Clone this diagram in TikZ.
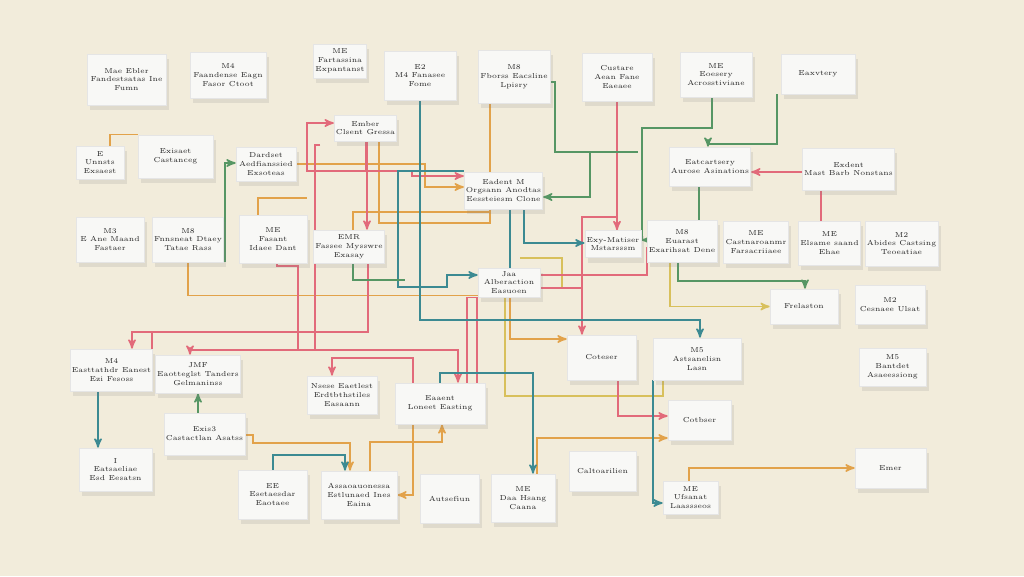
\documentclass[tikz,border=0pt]{standalone}
\usepackage{xcolor}
\usepackage{tikz}
\usetikzlibrary{arrows,shadows}
\pgfdeclarelayer{background}
\pgfsetlayers{background,main}
\definecolor{paper}{RGB}{242,236,219}
\definecolor{cardfill}{RGB}{248,248,246}
\definecolor{wred}{RGB}{226,106,122}
\definecolor{worange}{RGB}{226,162,74}
\definecolor{wgreen}{RGB}{86,150,100}
\definecolor{wteal}{RGB}{60,138,146}
\definecolor{wyellow}{RGB}{216,192,92}
\tikzset{
  card/.style 2 args = {rectangle, draw=black!10, fill=cardfill, text=black!85,
    align=center, inner sep=1pt, text centered,
    minimum width=#1*0.02cm, minimum height=#2*0.02cm,
    font=\fontsize{4.1}{5}\selectfont,
    drop shadow={opacity=0.16, shadow xshift=1.5pt, shadow yshift=-3pt}},% fiche blanche
  w_rd/.style = {wred, line width=0.9pt},% fil rouge
  w_or/.style = {worange, line width=0.9pt},% fil orange
  w_gr/.style = {wgreen, line width=0.9pt},% fil vert
  w_tl/.style = {wteal, line width=0.9pt},% fil bleu-vert
  w_ye/.style = {wyellow, line width=0.9pt}% fil jaune
}
\begin{document}
\begin{tikzpicture}[x=0.02cm, y=-0.02cm, >=stealth', line cap=round]
\useasboundingbox (0,0) rectangle (1024,576);
% rangee 1
\node[card={79}{51}] (b01) at (126.5,79.5) {Mae Ebler\\Fandestsatas Ine\\Fumn};
\node[card={76}{46}] (b02) at (228,75) {M4\\Faandense Eagn\\Fasor Ctoot};
\node[card={52}{34}] (b03) at (340,61) {ME\\Fartassina\\Expantanst};
\node[card={72}{49}] (b04) at (420,75.5) {E2\\M4 Fanasee\\Fome};
\node[card={72}{53}] (b05) at (514,76.5) {M8\\Fborss Eacsline\\Lpisry};
\node[card={70}{48}] (b06) at (617,77) {Custare\\Aean Fane\\Eaeaee};
\node[card={72}{45}] (b07) at (716,74.5) {ME\\Eoesery\\Acrosstiviane};
\node[card={74}{40}] (b08) at (818,74) {Eaxvtery};
% rangee 2
\node[card={48}{33}] (b09) at (100,162.5) {E\\Unnsts\\Exsaest};
\node[card={75}{43}] (b10) at (175.5,156.5) {Exisaet\\Castanceg};
\node[card={60}{34}] (b11) at (266,164) {Dardset\\Aedfianssied\\Exsoteas};
\node[card={59}{26}] (b12) at (365.5,128) {Ember\\Clsent Gressa};
\node[card={71}{37}] (b13) at (503.5,190.5) {Eadent M\\Orgsann Anodtas\\Eessteiesm Clone};
\node[card={70}{39}] (b14) at (710,166.5) {Eatcartsery\\Aurose Asinations};
\node[card={75}{42}] (b15) at (848.5,169) {Exdent\\Mast Barb Nonstans};
% rangee 3
\node[card={68}{45}] (b16) at (110,239.5) {M3\\E Ane Maand\\Fastaer};
\node[card={68}{45}] (b17) at (188,239.5) {M8\\Fnnsneat Dtaey\\Tatae Rass};
\node[card={68}{48}] (b18) at (273,239) {ME\\Fasant\\Idaee Dant};
\node[card={60}{33}] (b19) at (349,246.5) {EMR\\Fassee Mysswre\\Exasay};
\node[card={52}{27}] (b20) at (613,244) {Exy-Matiser\\Mstarsssm};
\node[card={60}{42}] (b21) at (682,241) {M8\\Euarast\\Exarihsat Dene};
\node[card={56}{42}] (b22) at (756,242) {ME\\Castnaroanmr\\Farsacriiaee};
\node[card={59}{44}] (b23) at (829.5,243) {ME\\Elsame saand\\Ehae};
\node[card={61}{45}] (b24) at (901.5,243.5) {M2\\Abides Castsing\\Teoeatiae};
\node[card={62}{29}] (b25) at (509,282.5) {Jaa\\Alberaction\\Easuoen};
% rangee 4
\node[card={68}{35}] (b26) at (804,306.5) {Frelaston};
\node[card={70}{39}] (b27) at (890,304.5) {M2\\Cesnaee Ulsat};
\node[card={69}{45}] (b28) at (601.5,357.5) {Coteser};
\node[card={88}{42}] (b29) at (697,359) {M5\\Astsanelisn\\Lasn};
\node[card={67}{38}] (b30) at (892.5,367) {M5\\Bantdet\\Asaeessiong};
% rangee 5
\node[card={79}{42}] (b31) at (111.5,370) {M4\\Easttathdr Eanest\\Ezi Fesoss};
\node[card={76}{38}] (b32) at (198,374) {JMF\\Eaotteglst Tanders\\Gelmaninss};
\node[card={70}{38}] (b33) at (342,395) {Nsese Eaetlest\\Erdtbthstiles\\Easaann};
\node[card={90}{41}] (b34) at (440,403.5) {Eaaent\\Loneet Easting};
\node[card={63}{40}] (b35) at (699.5,420) {Cotbser};
\node[card={77}{42}] (b36) at (204.5,434) {Exis3\\Castactlan Asatss};
\node[card={73}{43}] (b37) at (115.5,469.5) {I\\Eatsaeliae\\Esd Eesatsn};
% rangee 6
\node[card={69}{49}] (b38) at (272.5,494.5) {EE\\Esetaesdar\\Eaotaee};
\node[card={76}{48}] (b39) at (359,495) {Assaoauonessa\\Estlunaed Ines\\Eaina};
\node[card={59}{49}] (b40) at (449.5,498.5) {Autsefiun};
\node[card={64}{48}] (b41) at (523,498) {ME\\Daa Hsang\\Caana};
\node[card={67}{40}] (b42) at (602.5,471) {Caltoarilien};
\node[card={55}{33}] (b43) at (690.5,497.5) {ME\\Ufsanat\\Laassseos};
\node[card={71}{40}] (b44) at (890.5,468) {Emer};
% bouts libres
\coordinate (j_or1) at (307,198);
\coordinate (j_or2) at (490,212);
\coordinate (j_ye) at (520,258);
\coordinate (j_rd1) at (320,145);
\coordinate (j_rd2) at (298,350);
\coordinate (j_rd3) at (582,288);
\coordinate (j_gr1) at (638,152);
\coordinate (j_gr2) at (590,152);
\coordinate (j_gr3) at (405,280);
\begin{pgfonlayer}{background}
\fill[paper] (0,0) rectangle (1024,576);
% orange
\draw[w_or] (110,0 |- b09.north) |- (b10.north west);
\draw[w_or,->] (b11.east) -| (425,187) -- (b13.west |- 0,187);
\draw[w_or] (258,0 |- b18.north) |- (j_or1);
\draw[w_or] (379,0 |- b12.south) |- (490,223) -- (490,0 |- b05.south);
\draw[w_or] (353,0 |- b19.north) |- (j_or2);
\draw[w_or] (188,0 |- b17.south) |- (b25.west |- 0,295.5);
\draw[w_or,->] (510,0 |- b25.south) |- (b28.west |- 0,339);
\draw[w_or,->] (537,0 |- b41.north) |- (b35.west |- 0,438);
\draw[w_or,->] (689,0 |- b43.north) |- (b44.west);
\draw[w_or,->] (b36.east |- 0,435) -| (253,443) -| (350,0 |- b39.north);
\draw[w_or,->] (370,0 |- b39.north) |- (442,442) -- (442,0 |- b34.south);
\draw[w_or,->] (413,0 |- b34.south) |- (b39.east |- 0,495);
% jaune
\draw[w_ye] (505,0 |- b25.south) |- (663,396) -- (663,0 |- b29.south);
\draw[w_ye,->] (670,0 |- b21.south) |- (b26.west);
\draw[w_ye] (j_ye) -| (562,288);
% rouge
\draw[w_rd,->] (b12.south |- 0,171) -| (307,123) -- (b12.west |- 0,123);
\draw[w_rd,->] (b12.south) |- (412,171) |- (b13.west |- 0,176);
\draw[w_rd,->] (367,0 |- b12.south) -- (367,0 |- b19.north);
\draw[w_rd] (j_rd1) -| (315,350);
\draw[w_rd,->] (315,0 |- b19.west) -- (b19.west);
\draw[w_rd] (277,0 |- b18.south) |- (298,266) -- (j_rd2);
\draw[w_rd,->] (j_rd2) -| (190,0 |- b32.north);
\draw[w_rd,->] (j_rd2) -| (458,0 |- b34.north);
\draw[w_rd,->] (368,0 |- b19.south) |- (132,332) -- (132,0 |- b31.north);
\draw[w_rd] (152,0 |- b31.north) -- (152,332);
\draw[w_rd,->] (413,0 |- b34.north) |- (332,358) -- (332,0 |- b33.north);
\draw[w_rd] (b25.south west) -| (467,0 |- b34.north);
\draw[w_rd] (477,0 |- b25.south) -- (477,0 |- b34.north);
\draw[w_rd,->] (b06.south) -- (b06.south |- b20.north);
\draw[w_rd,->] (b06.south |- 0,217) -| (582,0 |- b28.north);
\draw[w_rd,->] (b25.east |- 0,275) -| (647,248) -- (b21.west |- 0,248);
\draw[w_rd] (b25.east |- 0,288) -- (j_rd3);
\draw[w_rd,->] (618,0 |- b28.south) |- (b35.west |- 0,416);
\draw[w_rd,->] (b15.west |- 0,172) -- (b14.east |- 0,172);
\draw[w_rd] (821,0 |- b15.south) -- (821,0 |- b23.north);
% bleu-vert
\draw[w_tl,->] (b04.south) |- (700,320) -- (700,0 |- b29.north);
\draw[w_tl,->] (b13.west |- 0,171) -| (398,287) -| (447,275) -- (b25.west |- 0,275);
\draw[w_tl,->] (524,0 |- b13.south) |- (b20.west |- 0,243);
\draw[w_tl] (510,0 |- b13.south) -- (510,0 |- b25.north);
\draw[w_tl,->] (653,0 |- b29.south) |- (b43.west |- 0,503);
\draw[w_tl,->] (b34.north) |- (533,373) -- (533,0 |- b41.north);
\draw[w_tl,->] (273,0 |- b38.north) |- (345,455) -- (345,0 |- b39.north);
\draw[w_tl,->] (98,0 |- b31.south) -- (98,0 |- b37.north);
% vert
\draw[w_gr,->] (225,0 |- b17.south) |- (b11.west |- 0,163);
\draw[w_gr] (b05.east |- 0,82) -| (555,152) -- (j_gr1);
\draw[w_gr,->] (j_gr2) |- (b13.east |- 0,197);
\draw[w_gr,->] (712,0 |- b07.south) |- (642,128) -- (642,240) -- (b20.east |- 0,240);
\draw[w_gr,->] (777,0 |- b08.south) |- (708,144) -- (708,0 |- b14.north);
\draw[w_gr] (699,0 |- b14.south) -- (699,0 |- b21.north);
\draw[w_gr,->] (678,0 |- b21.south) |- (805,281) -- (805,0 |- b26.north);
\draw[w_gr,->] (198,0 |- b36.north) -- (198,0 |- b32.south);
\draw[w_gr] (353,0 |- b19.south) |- (j_gr3);
\end{pgfonlayer}
\end{tikzpicture}
\end{document}
